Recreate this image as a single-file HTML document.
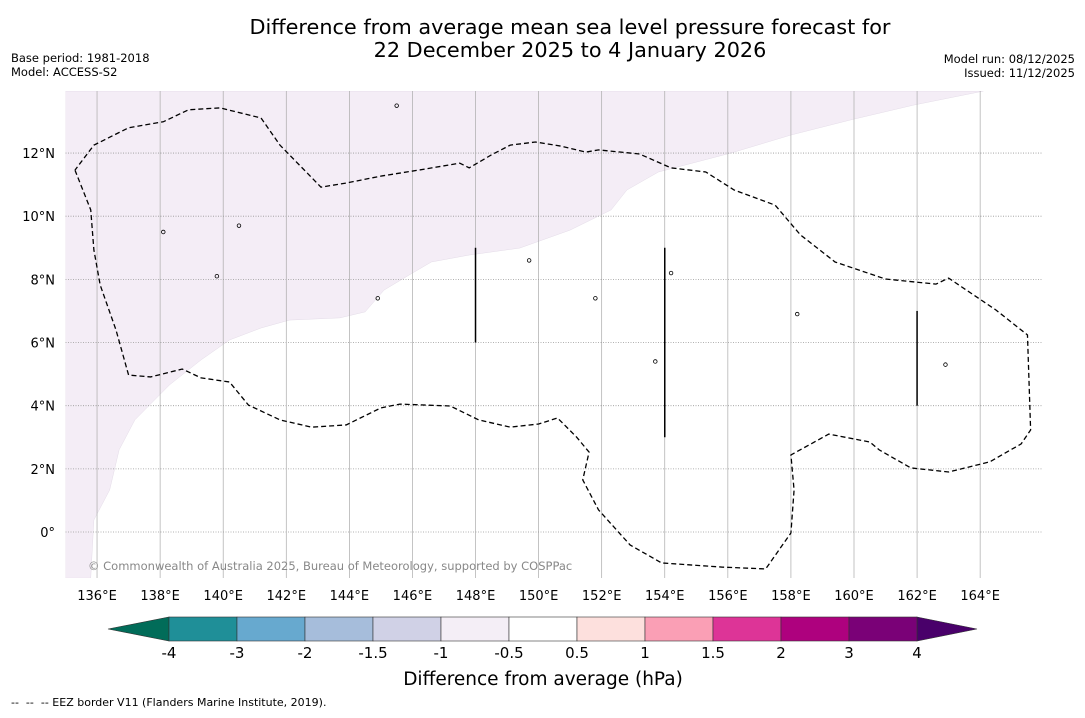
<!DOCTYPE html>
<html><head><meta charset="utf-8"><style>
body{margin:0;background:#fff;font-family:"Liberation Sans","DejaVu Sans",sans-serif}
svg text{font-family:"DejaVu Sans","Liberation Sans",sans-serif}
</style></head><body>
<svg id="c" width="1085" height="713" xmlns="http://www.w3.org/2000/svg">
<text x="570" y="34" font-size="20.8" text-anchor="middle">Difference from average mean sea level pressure forecast for</text>
<text x="570" y="57" font-size="20.8" text-anchor="middle">22 December 2025 to 4 January 2026</text>
<text x="11" y="62" font-size="11.5">Base period: 1981-2018</text>
<text x="11" y="76" font-size="11.5">Model: ACCESS-S2</text>
<text x="1075" y="63" font-size="11.5" text-anchor="end">Model run: 08/12/2025</text>
<text x="1075" y="77" font-size="11.5" text-anchor="end">Issued: 11/12/2025</text>
<g id="map"></g>
<g id="cb"></g>
<text x="543" y="685" font-size="18.5" text-anchor="middle">Difference from average (hPa)</text>
<text x="11" y="706" font-size="11" xml:space="preserve">--  --  -- EEZ border V11 (Flanders Marine Institute, 2019).</text>
</svg>
<script>
const lonTicks=[136,138,140,142,144,146,148,150,152,154,156,158,160,162,164];
const latTicks=[0,2,4,6,8,10,12];
const shadeLon=[164.1,161.9,159.9,158.0,156.1,153.8,152.8,152.3,151.0,149.4,147.8,146.6,145.9,145.1,144.5,143.7,142.1,141.2,140.2,139.3,138.3,137.2,136.7,136.4,135.9,135.8,135,135];
const shadeLat=[13.96,13.52,13.05,12.57,12.0,11.4,10.83,10.2,9.56,8.99,8.77,8.55,8.14,7.66,6.97,6.78,6.71,6.46,6.08,5.45,4.66,3.55,2.6,1.33,0.38,-1.46,-1.46,13.96];
const contourLon=[135.3,135.8,135.9,136.1,136.6,137.0,137.7,138.7,139.3,140.2,140.8,141.8,142.8,143.9,145.0,145.6,147.2,148.1,149.1,150.0,150.6,151.2,151.6,151.4,151.9,152.9,153.9,155.8,157.2,158.0,158.1,158.0,159.2,160.5,160.8,161.8,163.0,164.3,165.3,165.6,165.5,164.5,163.0,162.6,161.0,159.4,158.3,157.5,156.2,155.3,154.2,153.2,151.9,151.5,150.7,149.9,149.1,148.5,147.8,147.5,146.2,145.0,143.9,143.1,141.8,141.2,139.9,138.9,138.1,137.0,135.9,135.3];
const contourLat=[11.46,10.2,8.93,7.82,6.4,4.97,4.91,5.16,4.88,4.75,4.02,3.55,3.32,3.39,3.93,4.05,3.99,3.55,3.32,3.42,3.61,3.01,2.53,1.65,0.7,-0.41,-0.98,-1.11,-1.17,-0.03,1.33,2.44,3.1,2.85,2.6,2.03,1.9,2.22,2.79,3.23,6.24,7.03,8.04,7.85,8.01,8.55,9.41,10.35,10.83,11.4,11.53,11.97,12.1,12.03,12.22,12.35,12.25,11.94,11.53,11.68,11.46,11.27,11.05,10.92,12.25,13.11,13.43,13.37,12.99,12.8,12.25,11.46];
const eezLon=[148,154,162];
const eezLat0=[6,3,4];
const eezLat1=[9,9,7];
const islandLon=[145.5,138.1,151.8,158.2,162.9,149.7,154.2,153.7,140.5,139.8,144.9];
const islandLat=[13.5,9.5,7.4,6.9,5.3,8.6,8.2,5.4,9.7,8.1,7.4];
const cbLabels=["-4","-3","-2","-1.5","-1","-0.5","0.5","1","1.5","2","3","4"];
const cbColors=["#1f8f98","#67a9cf","#a6bddb","#d0d1e6","#f4eef6","#ffffff","#fde0dd","#fa9fb5","#dd3497","#ae017e","#7a0177"];
const NS="http://www.w3.org/2000/svg";
const X0=65.5,Y0=91,Y1=578,X1=1043;
const xs=l=>X0+(l-135)*31.54, ys=l=>532-l*31.58;
function mk(p,t,a){const e=document.createElementNS(NS,t);for(const k in a)e.setAttribute(k,a[k]);p.appendChild(e);return e;}
const map=document.getElementById('map');
const clip=mk(map,'clipPath',{id:'cl'});mk(clip,'rect',{x:X0,y:Y0,width:X1-X0,height:Y1-Y0});
const g=mk(map,'g',{'clip-path':'url(#cl)'});
let s=mk(g,'polygon',{points:shadeLon.map((v,i)=>xs(v)+','+ys(shadeLat[i])).join(' '),fill:'#f4edf6',stroke:'#e4dce8','stroke-width':0.5});


lonTicks.forEach(l=>{const x=xs(l);
const ln=mk(g,'line',{x1:x,x2:x,y1:Y0,y2:Y1,stroke:'#aaa','stroke-width':0.7});


const t=mk(map,'text',{x:x,y:600,'font-size':13,'text-anchor':'middle'});t.textContent=l+'°E';

});
latTicks.forEach(l=>{const y=ys(l);
const ln=mk(g,'line',{x1:X0,x2:X1,y1:y,y2:y,stroke:'#999','stroke-width':0.8,'stroke-dasharray':'1,1.5'});


const t=mk(map,'text',{x:55,y:y+5,'font-size':13,'text-anchor':'end'});t.textContent=l===0?'0°':l+'°N';

});
let c=mk(g,'polyline',{points:contourLon.map((v,i)=>xs(v)+','+ys(contourLat[i])).join(' '),fill:'none',stroke:'#000','stroke-width':1.3,'stroke-dasharray':'5,3'});


eezLon.forEach((l,i)=>{const e=mk(g,'line',{x1:xs(l),x2:xs(l),y1:ys(eezLat0[i]),y2:ys(eezLat1[i]),stroke:'#000','stroke-width':1.5});

});
islandLon.forEach((l,i)=>{const e=mk(g,'circle',{cx:xs(l),cy:ys(islandLat[i]),r:1.8,fill:'none',stroke:'#000','stroke-width':0.8});

});
const cr=mk(map,'text',{x:88,y:570,'font-size':11.5,fill:'#888'});cr.textContent='© Commonwealth of Australia 2025, Bureau of Meteorology, supported by COSPPac';


const cb=document.getElementById('cb');
const bx0=169,bw=68,by=617,bh=24;
let lt=mk(cb,'polygon',{points:`108,629 ${bx0},${by} ${bx0},${by+bh}`,fill:'#016c59',stroke:'#333','stroke-width':0.6});


const xe=bx0+bw*cbColors.length;
let rt=mk(cb,'polygon',{points:`${xe},${by} 977,629 ${xe},${by+bh}`,fill:'#49006a',stroke:'#333','stroke-width':0.6});


cbColors.forEach((col,i)=>{const r=mk(cb,'rect',{x:bx0+i*bw,y:by,width:bw,height:bh,fill:col,stroke:'#333','stroke-width':0.6});

});
cbLabels.forEach((l,i)=>{const t=mk(cb,'text',{x:bx0+i*bw,y:658,'font-size':15,'text-anchor':'middle'});t.textContent=l;

});
</script>
</body></html>
